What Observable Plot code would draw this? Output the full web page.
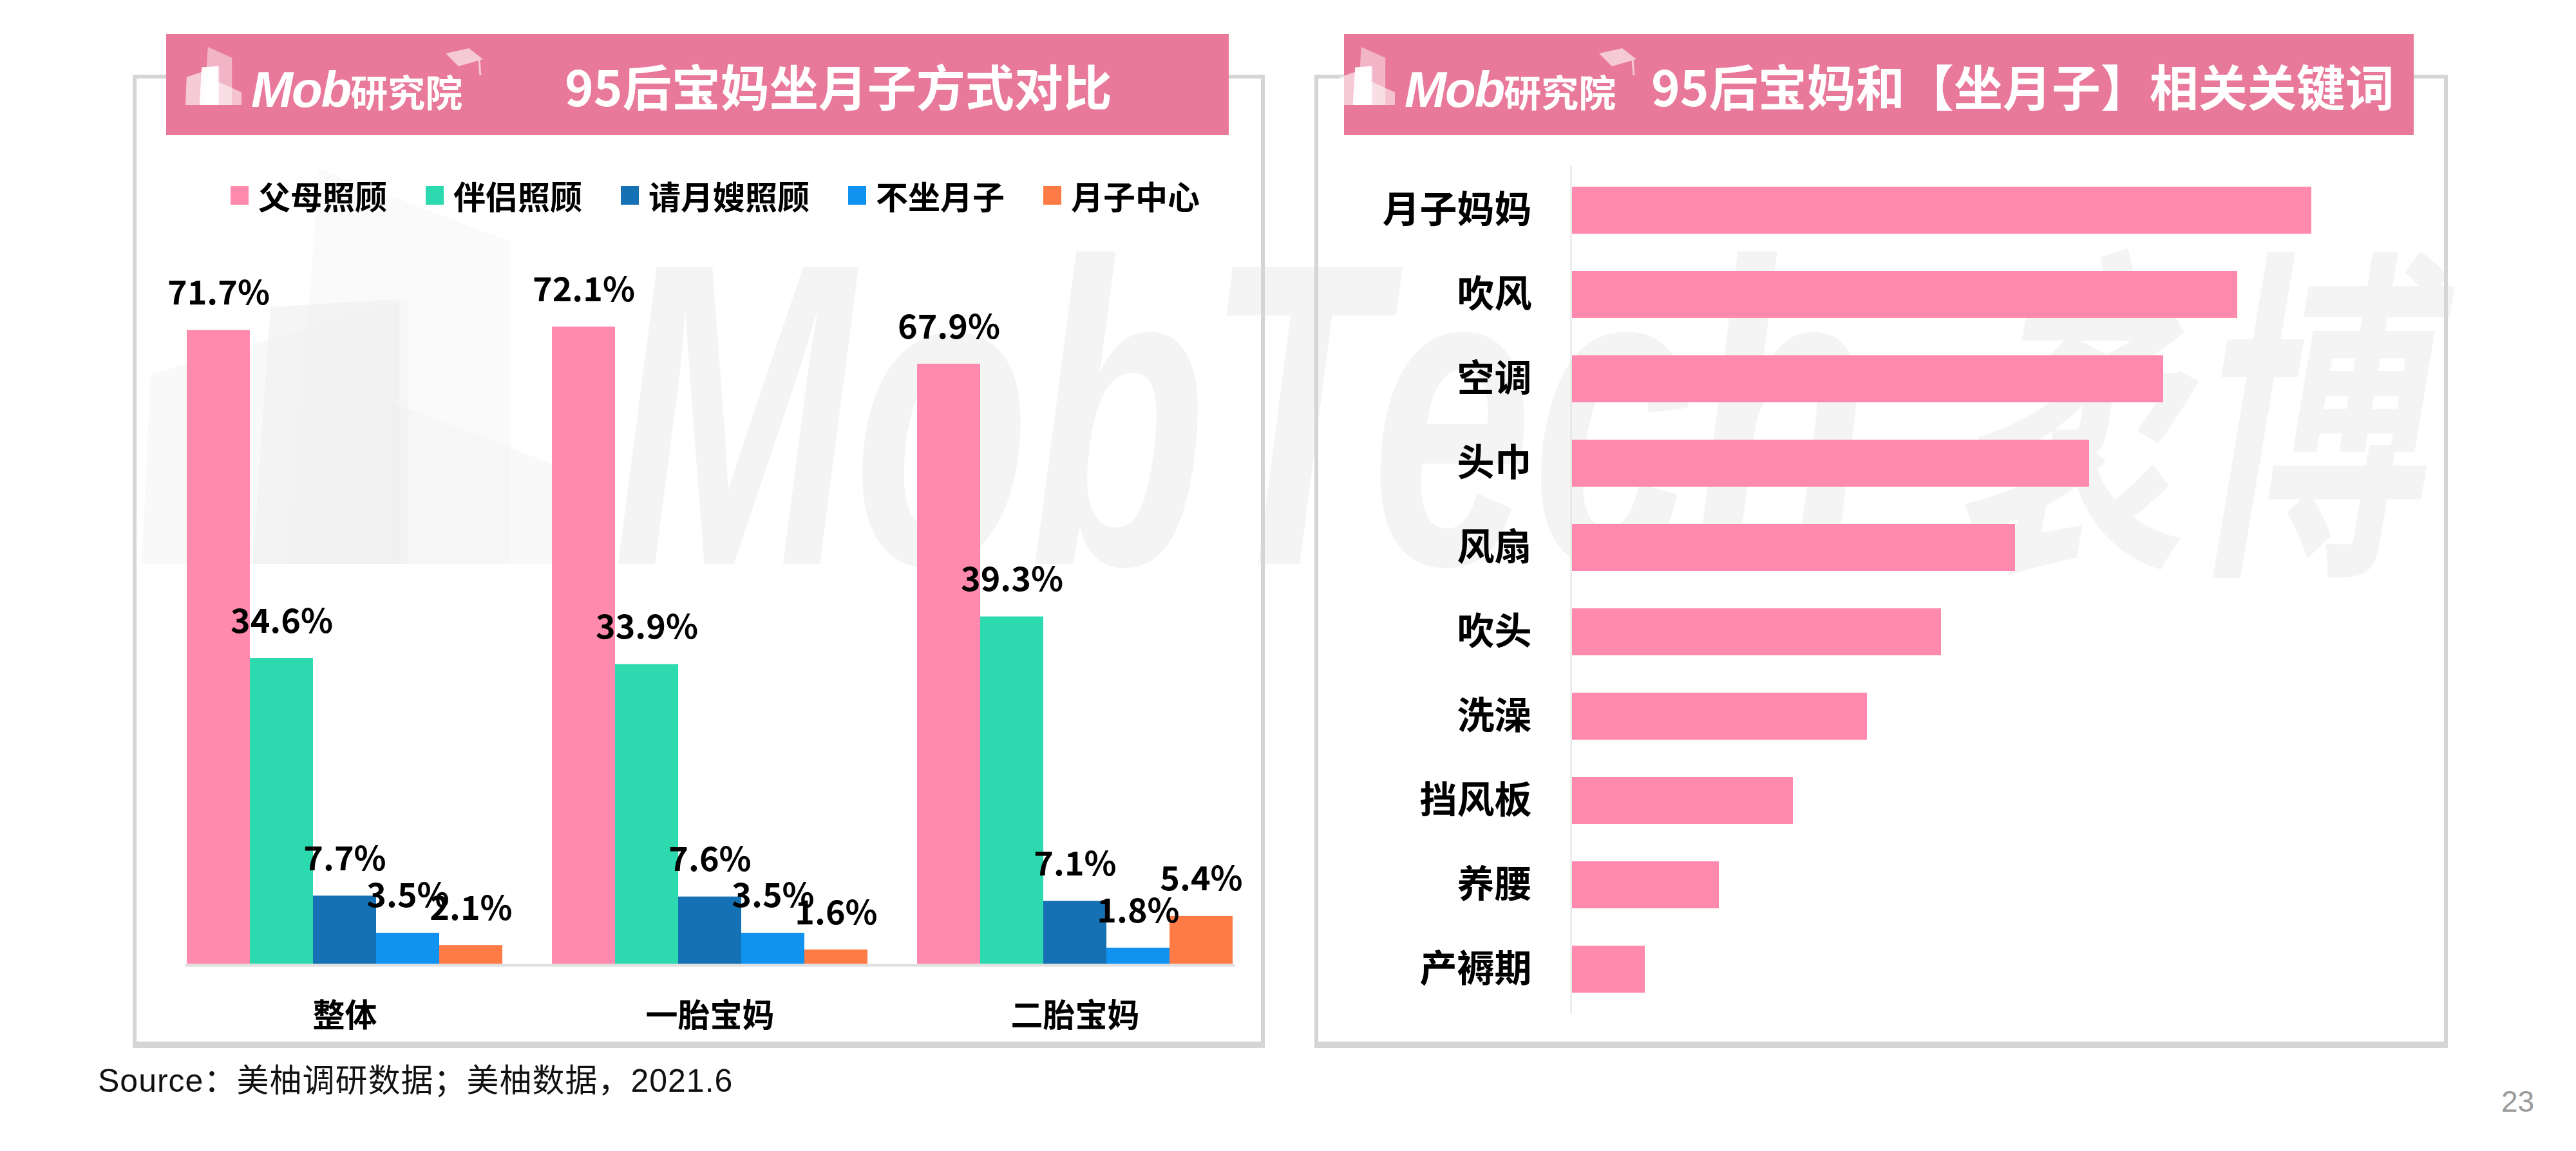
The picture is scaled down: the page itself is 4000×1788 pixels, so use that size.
<!DOCTYPE html>
<html><head><meta charset="utf-8">
<script src="https://cdn.jsdelivr.net/npm/d3@7"></script>
<script src="https://cdn.jsdelivr.net/npm/@observablehq/plot@0.6"></script>
<style>
body{margin:0;background:#fff;}
#page{position:relative;width:4000px;height:1788px;overflow:hidden;background:#fff;font-family:"Noto Sans CJK SC","Noto Sans",sans-serif;}
.box{position:absolute;box-sizing:border-box;border:6px solid #d5d5d5;border-bottom-width:10px;}
.header{position:absolute;background:#E8799A;top:53px;height:157px;}
.title{position:absolute;color:#fff;font-weight:700;font-size:76px;white-space:nowrap;line-height:1;top:94px;}
.logo{position:absolute;color:#fff;white-space:nowrap;line-height:1;top:100px;}
.logo .m{font-family:"Liberation Sans",Arial,sans-serif;font-style:italic;font-weight:700;font-size:78px;letter-spacing:-2px;}
.logo .c{font-size:58px;font-weight:700;}
#legend{position:absolute;left:358px;top:278px;display:flex;gap:60px;align-items:center;}
#legend .item{display:flex;align-items:center;gap:15px;font-size:50px;font-weight:700;color:#000;line-height:1;}
#legend .sw{width:28px;height:29px;display:inline-block;}
.plot{position:absolute;}
#source{position:absolute;left:152px;top:1654px;font-size:50px;letter-spacing:1px;color:#111;white-space:nowrap;line-height:50px;font-family:"Liberation Sans","Noto Sans CJK SC",sans-serif;}
#pagenum{position:absolute;left:3884px;top:1688px;font-size:46px;color:#9a9a9a;line-height:46px;font-family:"Liberation Sans",sans-serif;}
svg.deco{position:absolute;left:0;top:0;}
</style></head>
<body>
<div id="page"></div>
<script>
// ---------- data ----------
const groups = ["整体", "一胎宝妈", "二胎宝妈"];
const series = ["父母照顾", "伴侣照顾", "请月嫂照顾", "不坐月子", "月子中心"];
const seriesColors = ["#FF8AAD", "#2DD9AE", "#1570B4", "#0F92F0", "#FF7B45"];
const parentCare = [71.7, 72.1, 67.9];
const partnerCare = [34.6, 33.9, 39.3];
const nannyCare = [7.7, 7.6, 7.1];
const noConfinement = [3.5, 3.5, 1.8];
const confinementCenter = [2.1, 1.6, 5.4];

const keywords = ["月子妈妈", "吹风", "空调", "头巾", "风扇", "吹头", "洗澡", "挡风板", "养腰", "产褥期"];
const keywordScores = [10, 9, 8, 7, 6, 5, 4, 3, 2, 1];
const keywordColor = "#FF8AAD";

const leftTitle = "95后宝妈坐月子方式对比";
const rightTitle = "95后宝妈和【坐月子】相关关键词";
const sourceText = "Source：美柚调研数据；美柚数据，2021.6";
const pageNumber = "23";

// ---------- page ----------
const page = document.getElementById("page");
const NS = "http://www.w3.org/2000/svg";

const iconShapes = [
  {pts: [[0.40,0],[0.83,0.185],[0.83,1],[0.33,1]], op: 0.45},
  {pts: [[0.02,0.52],[0.60,0.33],[0.60,1],[0,1]], op: 0.6},
  {pts: [[0.29,0.35],[0.58,0.33],[0.58,1],[0.25,1]], op: 0.95},
  {pts: [[0.56,0.59],[1,0.78],[1,1],[0.56,1]], op: 0.55}
];
function drawIcon(svg, x, y, w, h, fill, scaleOp) {
  for (const s of iconShapes) {
    const p = document.createElementNS(NS, "polygon");
    p.setAttribute("points", s.pts.map(([u,v]) => `${x+u*w},${y+v*h}`).join(" "));
    p.setAttribute("fill", fill);
    p.setAttribute("fill-opacity", s.op*scaleOp);
    svg.appendChild(p);
  }
}
function drawCap(svg, x, y) {
  const p = document.createElementNS(NS, "polygon");
  p.setAttribute("points", `${x},${y+8} ${x+36},${y} ${x+58},${y+17} ${x+20},${y+28}`);
  p.setAttribute("fill", "#fff"); p.setAttribute("fill-opacity", 0.6);
  svg.appendChild(p);
  const l = document.createElementNS(NS, "line");
  l.setAttribute("x1", x+52); l.setAttribute("y1", y+18); l.setAttribute("x2", x+54); l.setAttribute("y2", y+42);
  l.setAttribute("stroke", "#fff"); l.setAttribute("stroke-opacity", 0.6); l.setAttribute("stroke-width", 3);
  svg.appendChild(l);
}
// faint watermark
const wm = document.createElementNS(NS, "svg");
wm.setAttribute("class", "deco"); wm.setAttribute("width", 4000); wm.setAttribute("height", 1788);
drawIcon(wm, 220, 262, 690, 614, "#efefef", 0.65);
function wmText(str, x, y, len, size) {
  const t = document.createElementNS(NS, "text");
  t.textContent = str;
  t.setAttribute("x", x); t.setAttribute("y", y);
  t.setAttribute("textLength", len); t.setAttribute("lengthAdjust", "spacingAndGlyphs");
  t.setAttribute("font-size", size); t.setAttribute("font-weight", "bold");
  t.setAttribute("font-style", "italic");
  t.setAttribute("font-family", "Liberation Sans, Noto Sans CJK SC, sans-serif");
  t.setAttribute("fill", "#f4f4f4");
  wm.appendChild(t);
}
wmText("MobTech", 952, 876, 1950, 670);
wmText("袤博", 3030, 850, 727, 540);
page.appendChild(wm);

function addDiv(cls, style, html) {
  const d = document.createElement("div");
  d.className = cls; Object.assign(d.style, style);
  if (html != null) d.innerHTML = html;
  page.appendChild(d); return d;
}
addDiv("box", {left: "206px", top: "116px", width: "1758px", height: "1512px"});
addDiv("box", {left: "2041px", top: "116px", width: "1760px", height: "1512px"});

addDiv("header", {left: "258px", width: "1650px"});
addDiv("header", {left: "2087px", width: "1661px"});

const deco = document.createElementNS(NS, "svg");
deco.setAttribute("class", "deco"); deco.setAttribute("width", 4000); deco.setAttribute("height", 400);
drawIcon(deco, 288, 73, 87, 90, "#fff", 1);
drawCap(deco, 692, 75);
drawIcon(deco, 288+1791, 73, 87, 90, "#fff", 1);
drawCap(deco, 692+1791, 75);
page.appendChild(deco);

addDiv("logo", {left: "390px"}, '<span class="m">Mob</span><span class="c">研究院</span>');
addDiv("logo", {left: "2181px"}, '<span class="m">Mob</span><span class="c">研究院</span>');
addDiv("title", {left: "877px"}).textContent = leftTitle;
addDiv("title", {left: "2564px"}).textContent = rightTitle;

// legend
const legend = addDiv("", {}); legend.id = "legend";
series.forEach((s, i) => {
  const it = document.createElement("div"); it.className = "item";
  const sw = document.createElement("span"); sw.className = "sw"; sw.style.background = seriesColors[i];
  const tx = document.createElement("span"); tx.textContent = s;
  it.appendChild(sw); it.appendChild(tx); legend.appendChild(it);
});

// ---------- left chart ----------
const seriesValues = [parentCare, partnerCare, nannyCare, noConfinement, confinementCenter];
const careData = groups.flatMap((g, i) => series.map((s, j) => ({group: g, series: s, value: seriesValues[j][i]})));

const left = Plot.plot({
  width: 1800, height: 1270,
  marginLeft: 52, marginRight: 47, marginTop: 19, marginBottom: 153,
  style: {fontFamily: "'Noto Sans CJK SC', sans-serif", fontSize: "50px", fontWeight: "bold", color: "#000", background: "transparent", overflow: "visible"},
  fx: {domain: groups, paddingInner: 0.132, paddingOuter: 0.0634, label: null, axis: "bottom", tickSize: 0, tickPadding: 62},
  x: {domain: series, padding: 0, axis: null},
  y: {domain: [0, 80], axis: null},
  color: {domain: series, range: seriesColors},
  marks: [
    Plot.frame({facet: "super", anchor: "bottom", stroke: "#dedede", strokeWidth: 4, dy: 2}),
    Plot.barY(careData, {fx: "group", x: "series", y: "value", fill: "series"}),
    Plot.text(careData, {fx: "group", x: "series", y: "value", text: d => d.value.toFixed(1) + "%",
      lineAnchor: "bottom", dy: -40, fontSize: 52, fontWeight: "bold", fill: "#000"})
  ]
});
left.classList.add("plot");
left.style.left = "200px"; left.style.top = "380px";
page.appendChild(left);

// ---------- right chart ----------
const kwData = keywords.map((k, i) => ({keyword: k, score: keywordScores[i]}));
const right = Plot.plot({
  width: 1760, height: 1380,
  marginLeft: 399, marginRight: 96, marginTop: 28, marginBottom: 36,
  style: {fontFamily: "'Noto Sans CJK SC', sans-serif", fontSize: "58px", fontWeight: "bold", color: "#000", background: "transparent", overflow: "visible"},
  x: {domain: [0, 11], axis: null},
  y: {domain: keywords, paddingInner: 0.44, paddingOuter: 0.22, axis: "left", tickSize: 0, tickPadding: 61, label: null},
  marks: [
    Plot.barX(kwData, {x: "score", y: "keyword", fill: keywordColor, insetLeft: 2}),
    Plot.ruleX([0], {stroke: "#e2e2e2", strokeWidth: 2})
  ]
});
right.classList.add("plot");
right.style.left = "2040px"; right.style.top = "230px";
page.appendChild(right);

const src = addDiv("", {}); src.id = "source"; src.textContent = sourceText;
const pn = addDiv("", {}); pn.id = "pagenum"; pn.textContent = pageNumber;
</script>
</body></html>
